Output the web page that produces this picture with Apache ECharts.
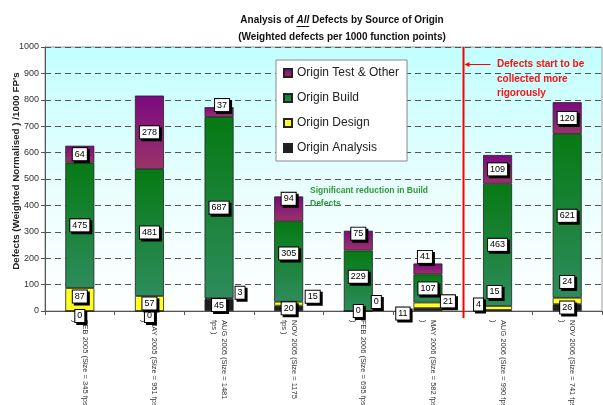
<!DOCTYPE html>
<html><head><meta charset="utf-8">
<script src="https://cdn.jsdelivr.net/npm/echarts@6/dist/echarts.min.js"></script>
<style>html,body{margin:0;padding:0;background:#fff}#c{width:603px;height:405px}</style>
</head><body><div id="c"></div>
<script>
// ---- data ----
const categories = [
  'FEB 2005 (Size = 345 fps\n)',
  'MAY 2005 (Size = 951 fps\n)',
  'AUG 2005 (Size = 1481\nfps )',
  'NOV 2005 (Size = 1175\nfps )',
  'FEB 2006 (Size = 695 fps\n)',
  'MAY 2006 (Size = 582 fps\n)',
  'AUG 2006 (Size = 990 fps\n)',
  'NOV 2006 (Size = 741 fps\n)'
];
const originAnalysis = [0, 0, 45, 20, 0, 11, 4, 26];
const originDesign   = [87, 57, 3, 15, 0, 21, 15, 24];
const originBuild    = [475, 481, 687, 305, 229, 107, 463, 621];
const originTest     = [64, 278, 37, 94, 75, 41, 109, 120];
const seriesNames = ['Origin Analysis', 'Origin Design', 'Origin Build', 'Origin Test & Other'];
const legendOrder = ['Origin Test & Other', 'Origin Build', 'Origin Design', 'Origin Analysis'];
const titleParts = ['Analysis of ', 'All', ' Defects by Source of Origin'];
const subtitle = '(Weighted defects per 1000 function points)';
const yName = "Defects (Weighted Normalised ) /1000 FP's";
const noteRed = 'Defects start to be\ncollected more\nrigorously';
const noteGreen = 'Significant reduction in Build\nDefects';

// ---- styles ----
const FONT = '"Liberation Sans", Arial, Helvetica, sans-serif';
const labelShifts = [
  {0: [0, 5], 1: [0, 5], 5: [-25, 4], 6: [-19, -6]},
  {0: [0, -3], 2: [21, -6], 3: [24, -7], 4: [18, -9], 5: [20, -4], 6: [-3, -16], 7: [0, -19]},
  {3: [0, -8], 4: [0, -4]},
  {2: [3, -7], 3: [0, -10], 4: [0, -7], 5: [-3, -12]}
];
const fills = [
  '#1e1e1e',
  '#ffff22',
  {type: 'linear', x: 0, y: 0, x2: 0, y2: 1, colorStops: [{offset: 0, color: '#067a14'}, {offset: 1, color: '#2e8c5c'}]},
  {type: 'linear', x: 0, y: 0, x2: 0, y2: 1, colorStops: [{offset: 0, color: '#7c0a80'}, {offset: 1, color: '#9a3368'}]}
];

function mkData(vals, si) {
  return vals.map((v, i) => {
    const s = labelShifts[si][i];
    return s ? {value: v, label: {offset: s}} : v;
  });
}

const allVals = [originAnalysis, originDesign, originBuild, originTest];
const series = allVals.map((vals, si) => ({
  name: seriesNames[si],
  type: 'bar',
  stack: 'total',
  barWidth: 29,
  data: mkData(vals, si),
  itemStyle: {color: fills[si], borderColor: '#222', borderWidth: 0.8},
  label: {
    show: true, position: 'inside', fontSize: 9, fontFamily: FONT, color: '#000',
    backgroundColor: '#fff', borderColor: '#000', borderWidth: 1, padding: [2, 2, 1, 2],
    shadowColor: '#000', shadowOffsetX: 2, shadowOffsetY: 2, shadowBlur: 0
  },
  emphasis: {disabled: true}
}));

const chart = echarts.init(document.getElementById('c'), null, {renderer: 'canvas'});
chart.setOption({
  animation: false,
  grid: {
    left: 45, right: 1, top: 47, bottom: 94, containLabel: false, outerBoundsMode: 'none',
    show: true, borderColor: '#999', borderWidth: 1,
    backgroundColor: {type: 'linear', x: 0, y: 0, x2: 0, y2: 1,
      colorStops: [{offset: 0, color: '#c2ffff'}, {offset: 0.55, color: '#eafefe'}, {offset: 1, color: '#ffffff'}]}
  },
  legend: {
    data: legendOrder, orient: 'vertical', left: 276, top: 60,
    itemWidth: 8, itemHeight: 8, itemGap: 13, padding: [7, 8, 7, 7],
    backgroundColor: '#fff', borderColor: '#888', borderWidth: 1,
    textStyle: {fontSize: 12, color: '#222', fontFamily: FONT},
    icon: 'rect', selectedMode: false
  },
  xAxis: {
    type: 'category', data: categories,
    axisLine: {lineStyle: {color: '#555'}},
    axisTick: {show: true, length: 4, lineStyle: {color: '#555'}},
    axisLabel: {rotate: -90, fontSize: 7.5, color: '#333', fontFamily: FONT, margin: 9, lineHeight: 10}
  },
  yAxis: {
    type: 'value', min: 0, max: 1000, interval: 100,
    name: yName, nameLocation: 'middle', nameGap: 24, nameMoveOverlap: false,
    nameTextStyle: {fontSize: 9.8, fontWeight: 'bold', color: '#222', fontFamily: FONT, padding: [0, 0, 0, 16]},
    axisLine: {show: true, lineStyle: {color: '#555'}},
    axisTick: {show: true, length: 4, lineStyle: {color: '#555'}},
    axisLabel: {fontSize: 9, color: '#333', fontFamily: FONT, margin: 6, formatter: v => String(v)},
    splitLine: {show: true, lineStyle: {color: '#555', type: [6, 4], width: 1}}
  },
  series: series
});

// ---- annotations ----
const ctx = document.createElement('canvas').getContext('2d');
ctx.font = 'bold 10px ' + FONT;
const w1 = ctx.measureText(titleParts[0]).width;
const w3 = ctx.measureText(titleParts[2]).width;
ctx.font = 'italic bold 10px ' + FONT;
const w2 = ctx.measureText(titleParts[1]).width;
const tCx = 342, tY = 21;
const tx0 = tCx - (w1 + w2 + w3) / 2;

const xa = chart.convertToPixel({xAxisIndex: 0}, 5);
const xb = chart.convertToPixel({xAxisIndex: 0}, 6);
const bx = Math.round((xa + xb) / 2) + 0.5;
const yTop = chart.convertToPixel({yAxisIndex: 0}, 1000);
const y0 = chart.convertToPixel({yAxisIndex: 0}, 0);
const arrowY = 64.5;

chart.setOption({
  graphic: [
    {type: 'text', left: tx0, top: tY - 6, style: {text: titleParts[0], font: 'bold 10px ' + FONT, fill: '#111'}},
    {type: 'text', left: tx0 + w1, top: tY - 6, style: {text: titleParts[1], font: 'italic bold 10px ' + FONT, fill: '#111'}},
    {type: 'text', left: tx0 + w1 + w2, top: tY - 6, style: {text: titleParts[2], font: 'bold 10px ' + FONT, fill: '#111'}},
    {type: 'line', shape: {x1: tx0 + w1, y1: tY + 5.5, x2: tx0 + w1 + w2, y2: tY + 5.5}, style: {stroke: '#111', lineWidth: 1}},
    {type: 'text', x: tCx, y: tY + 16, style: {text: subtitle, font: 'bold 10px ' + FONT, fill: '#111', align: 'center', verticalAlign: 'middle'}},
    {type: 'line', z: 100, shape: {x1: bx, y1: yTop, x2: bx, y2: y0 + 7}, style: {stroke: '#ff0000', lineWidth: 2}},
    {type: 'line', z: 100, shape: {x1: bx + 3, y1: arrowY, x2: bx + 27, y2: arrowY}, style: {stroke: '#ff0000', lineWidth: 1}},
    {type: 'polygon', z: 100, shape: {points: [[bx + 1, arrowY], [bx + 6, arrowY - 2.5], [bx + 6, arrowY + 2.5]]}, style: {fill: '#ff0000'}},
    {type: 'text', z: 100, x: 497, y: 57, style: {text: noteRed, font: 'bold 10px ' + FONT, fill: '#ff1010', lineHeight: 14.5}},
    {type: 'text', z: 100, x: 310, y: 184, style: {text: noteGreen, font: 'bold 8.5px ' + FONT, fill: '#2e9a35', lineHeight: 13}}
  ]
});
</script>
</body></html>
